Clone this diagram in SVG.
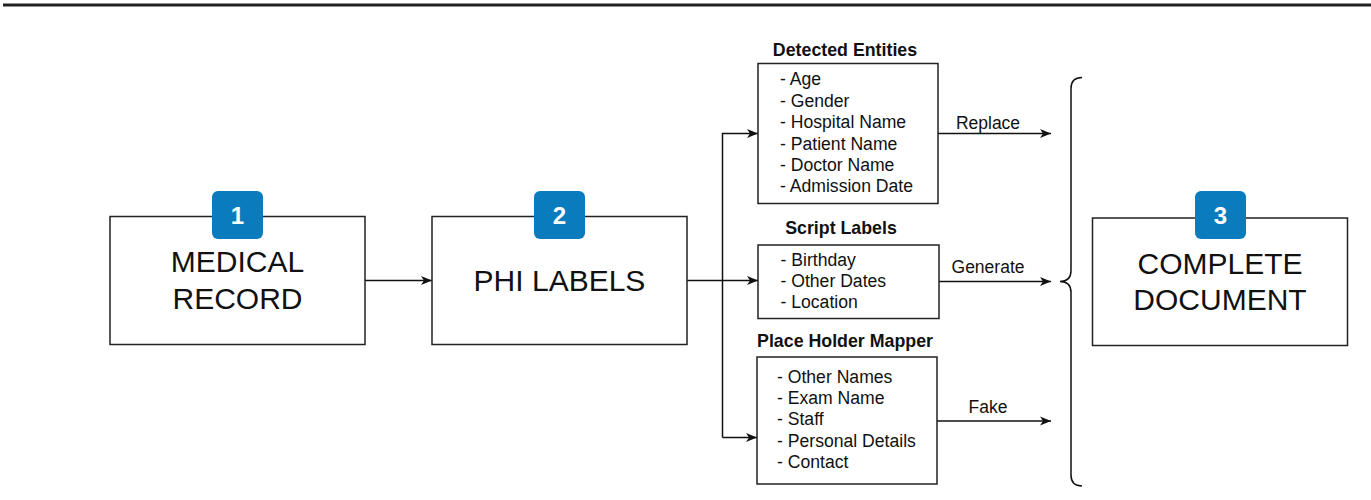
<svg xmlns="http://www.w3.org/2000/svg" width="1371" height="500" viewBox="0 0 1371 500">
<style>
  .box { fill: #fff; stroke: #222; stroke-width: 1.5; }
  .badge { fill: #0a7bbd; }
  .badgetxt { font-family: "Liberation Sans", Arial, sans-serif; font-weight: bold; font-size: 24px; fill: #fff; text-anchor: middle; }
  .big { font-family: "Liberation Sans", Arial, sans-serif; font-size: 30px; fill: #111; text-anchor: middle; }
  .title { font-family: "Liberation Sans", Arial, sans-serif; font-weight: bold; font-size: 17.8px; fill: #111; text-anchor: middle; }
  .item { font-family: "Liberation Sans", Arial, sans-serif; font-size: 17.6px; fill: #111; }
  .lbl { font-family: "Liberation Sans", Arial, sans-serif; font-size: 17.5px; fill: #111; text-anchor: middle; }
  .edge { fill: none; stroke: #111; stroke-width: 1.5; }
</style>
<defs>
  <marker id="arr" markerUnits="userSpaceOnUse" markerWidth="12" markerHeight="10" refX="11" refY="5" orient="auto">
    <path d="M0,0.5 L11,5 L0,9.5 L3,5 Z" fill="#111"/>
  </marker>
</defs>
<rect width="1371" height="500" fill="#fff"/>
<line x1="3" y1="5" x2="1371" y2="5" stroke="#222" stroke-width="3"/>

<g id="connectors">
  <line class="edge" x1="365" y1="280.5" x2="432" y2="280.5" marker-end="url(#arr)"/>
  <line class="edge" x1="687" y1="280.5" x2="758" y2="280.5" marker-end="url(#arr)"/>
  <polyline class="edge" points="722.5,437.5 722.5,133.5 758,133.5" marker-end="url(#arr)"/>
  <line class="edge" x1="722.5" y1="437.5" x2="757" y2="437.5" marker-end="url(#arr)"/>
  <line class="edge" x1="938" y1="133.5" x2="1051" y2="133.5" marker-end="url(#arr)"/>
  <line class="edge" x1="939" y1="281.5" x2="1051" y2="281.5" marker-end="url(#arr)"/>
  <line class="edge" x1="937" y1="421" x2="1051" y2="421" marker-end="url(#arr)"/>
  <text class="lbl" x="988" y="129">Replace</text>
  <text class="lbl" x="988" y="272.5">Generate</text>
  <text class="lbl" x="988" y="412.5">Fake</text>
</g>

<g id="brace">
  <path class="edge" d="M1082,77.5 Q1071,77.5 1071,88.5 L1071,270.5 Q1071,281.5 1060,281.5 Q1071,281.5 1071,292.5 L1071,475 Q1071,486 1082,486"/>
</g>

<g id="medical-record">
  <rect class="box" x="110" y="216.5" width="255" height="128"/>
  <rect class="badge" x="212" y="191" width="51" height="48" rx="6"/>
  <text class="badgetxt" x="237.5" y="223.5">1</text>
  <text class="big" x="237.5" y="272">MEDICAL</text>
  <text class="big" x="237.5" y="308.5">RECORD</text>
</g>

<g id="phi-labels">
  <rect class="box" x="432" y="216.5" width="255" height="128"/>
  <rect class="badge" x="534" y="191" width="51" height="48" rx="6"/>
  <text class="badgetxt" x="559.5" y="223.5">2</text>
  <text class="big" x="559.5" y="290.5">PHI LABELS</text>
</g>

<g id="detected-entities">
  <text class="title" x="845" y="56">Detected Entities</text>
  <rect class="box" x="758" y="63.5" width="180" height="140"/>
  <text class="item" x="780" y="85">- Age</text>
  <text class="item" x="780" y="106.5">- Gender</text>
  <text class="item" x="780" y="128">- Hospital Name</text>
  <text class="item" x="780" y="149.5">- Patient Name</text>
  <text class="item" x="780" y="171">- Doctor Name</text>
  <text class="item" x="780" y="192">- Admission Date</text>
</g>

<g id="script-labels">
  <text class="title" x="841" y="234">Script Labels</text>
  <rect class="box" x="758" y="245" width="181" height="73.5"/>
  <text class="item" x="780.5" y="266">- Birthday</text>
  <text class="item" x="780.5" y="287">- Other Dates</text>
  <text class="item" x="780.5" y="307.5">- Location</text>
</g>

<g id="place-holder-mapper">
  <text class="title" x="845" y="347">Place Holder Mapper</text>
  <rect class="box" x="757" y="357" width="180" height="127"/>
  <text class="item" x="777" y="383">- Other Names</text>
  <text class="item" x="777" y="403.5">- Exam Name</text>
  <text class="item" x="777" y="425">- Staff</text>
  <text class="item" x="777" y="446.5">- Personal Details</text>
  <text class="item" x="777" y="468">- Contact</text>
</g>

<g id="complete-document">
  <rect class="box" x="1092.5" y="218" width="255" height="127.5"/>
  <rect class="badge" x="1195" y="191" width="51" height="48" rx="6"/>
  <text class="badgetxt" x="1220.5" y="223.5">3</text>
  <text class="big" x="1220" y="273.5">COMPLETE</text>
  <text class="big" x="1220" y="310">DOCUMENT</text>
</g>
</svg>
